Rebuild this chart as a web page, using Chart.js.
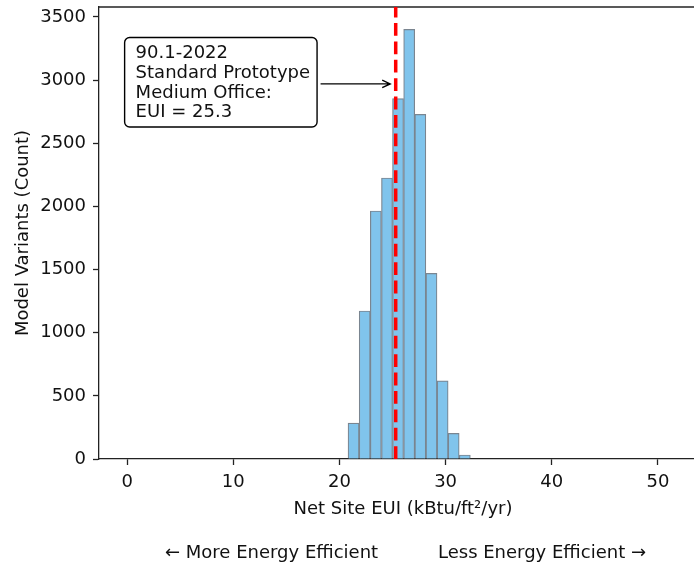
<!DOCTYPE html>
<html>
<head>
<meta charset="utf-8">
<script src="https://cdn.jsdelivr.net/npm/chart.js@4.4.0/dist/chart.umd.min.js"></script>
<style>
  html, body { margin: 0; padding: 0; background: #fff; }
  #wrap { width: 694px; height: 564px; }
</style>
</head>
<body>
<div id="wrap"><canvas id="histChart" width="694" height="564"></canvas></div>
<script>
// Net Site EUI histogram data
const binCenters = [21.33, 22.38, 23.43, 24.48, 25.52, 26.57, 27.62, 28.67, 29.72, 30.76, 31.81];
const binCounts = [285, 1172, 1964, 2225, 2853, 3402, 2729, 1470, 618, 203, 32];
const xTicks = [0, 10, 20, 30, 40, 50];
const yTicks = [0, 500, 1000, 1500, 2000, 2500, 3000, 3500];
const referenceEUI = 25.3;
const annotationLines = ['90.1-2022', 'Standard Prototype', 'Medium Office:', 'EUI = 25.3'];
const annotationText = { x: 0.8, y: 2985 };
const annotationTarget = { x: referenceEUI, y: 2970 };

const FONT = "'DejaVu Sans', sans-serif";
const INK = '#111';

const extras = {
    id: 'extras',
    afterDatasetsDraw(chart) {
        const { ctx, chartArea: a, scales: { x, y } } = chart;
        ctx.save();

        // top spine
        ctx.strokeStyle = '#222';
        ctx.lineWidth = 1.3;
        ctx.beginPath();
        ctx.moveTo(a.left, a.top);
        ctx.lineTo(a.right, a.top);
        ctx.stroke();

        // reference line
        const rx = x.getPixelForValue(referenceEUI);
        ctx.strokeStyle = '#ff0000';
        ctx.lineWidth = 3.5;
        ctx.setLineDash([12.8, 5.6]);
        ctx.beginPath();
        ctx.moveTo(rx, a.bottom);
        ctx.lineTo(rx, a.top);
        ctx.stroke();
        ctx.setLineDash([]);

        // annotation box
        ctx.font = '18px ' + FONT;
        const tx = x.getPixelForValue(annotationText.x);
        const ty = y.getPixelForValue(annotationText.y);
        const lineH = 19.8;
        const textW = Math.max(...annotationLines.map(l => ctx.measureText(l).width));
        const boxL = tx - 11, boxR = tx + textW + 7;
        const boxT = ty - 44.5, boxB = ty + 45;
        ctx.fillStyle = '#fff';
        ctx.strokeStyle = '#000';
        ctx.lineWidth = 1.4;
        ctx.beginPath();
        ctx.roundRect(boxL, boxT, boxR - boxL, boxB - boxT, 5);
        ctx.fill();
        ctx.stroke();
        ctx.fillStyle = INK;
        ctx.textAlign = 'left';
        ctx.textBaseline = 'alphabetic';
        annotationLines.forEach((l, i) => ctx.fillText(l, tx, ty - 24 + i * lineH));

        // arrow
        const ax = x.getPixelForValue(annotationTarget.x) - 5.5;
        const ay = y.getPixelForValue(annotationTarget.y);
        ctx.strokeStyle = '#000';
        ctx.lineWidth = 1.4;
        ctx.beginPath();
        ctx.moveTo(boxR + 3.5, ay);
        ctx.lineTo(ax, ay);
        ctx.moveTo(ax - 8, ay - 3.8);
        ctx.lineTo(ax, ay);
        ctx.lineTo(ax - 8, ay + 3.8);
        ctx.stroke();

        // axis titles
        ctx.fillStyle = INK;
        ctx.textAlign = 'center';
        ctx.textBaseline = 'middle';
        ctx.fillText('Net Site EUI (kBtu/ft²/yr)', 403, 509);
        ctx.save();
        ctx.translate(23, (a.top + a.bottom) / 2);
        ctx.rotate(-Math.PI / 2);
        ctx.fillText('Model Variants (Count)', 0, 0);
        ctx.restore();

        // efficiency hints
        ctx.textAlign = 'left';
        ctx.fillText('← More Energy Efficient', 165, 553);
        ctx.textAlign = 'right';
        ctx.fillText('Less Energy Efficient →', 646, 553);

        ctx.restore();
    }
};

const axisGrid = { display: true, drawOnChartArea: false, drawTicks: true, offset: false, tickLength: 6, tickColor: '#222', tickWidth: 1.3 };
const axisBorder = { display: true, color: '#222', width: 1.3 };

const ctx = document.getElementById('histChart').getContext('2d');
new Chart(ctx, {
    type: 'bar',
    data: {
        datasets: [{
            data: binCenters.map((c, i) => ({ x: c, y: binCounts[i] })),
            backgroundColor: '#80c4ec',
            borderColor: '#7a8590',
            borderWidth: 1.2,
            barPercentage: 1,
            categoryPercentage: 1
        }]
    },
    options: {
        responsive: false,
        animation: false,
        layout: { padding: { top: 7, left: 0, right: 0, bottom: 0 } },
        plugins: {
            legend: { display: false },
            tooltip: { enabled: false }
        },
        scales: {
            x: {
                type: 'linear',
                offset: false,
                min: -2.65,
                max: 53.4,
                afterBuildTicks: s => { s.ticks = xTicks.map(v => ({ value: v })); },
                afterFit: s => { s.height = 105; s.paddingLeft = 0; s.paddingRight = 0; },
                grid: axisGrid,
                border: axisBorder,
                ticks: {
                    font: { family: FONT, size: 18 },
                    color: INK,
                    padding: 7,
                    maxRotation: 0,
                    autoSkip: false,
                    callback: v => String(v)
                }
            },
            y: {
                type: 'linear',
                min: 0,
                max: 3579,
                afterBuildTicks: s => { s.ticks = yTicks.map(v => ({ value: v })); },
                afterFit: s => { s.width = 99; s.paddingTop = 0; s.paddingBottom = 0; },
                grid: axisGrid,
                border: axisBorder,
                ticks: {
                    font: { family: FONT, size: 18 },
                    color: INK,
                    padding: 7,
                    autoSkip: false,
                    callback: v => String(v)
                }
            }
        }
    },
    plugins: [extras]
});
</script>
</body>
</html>
